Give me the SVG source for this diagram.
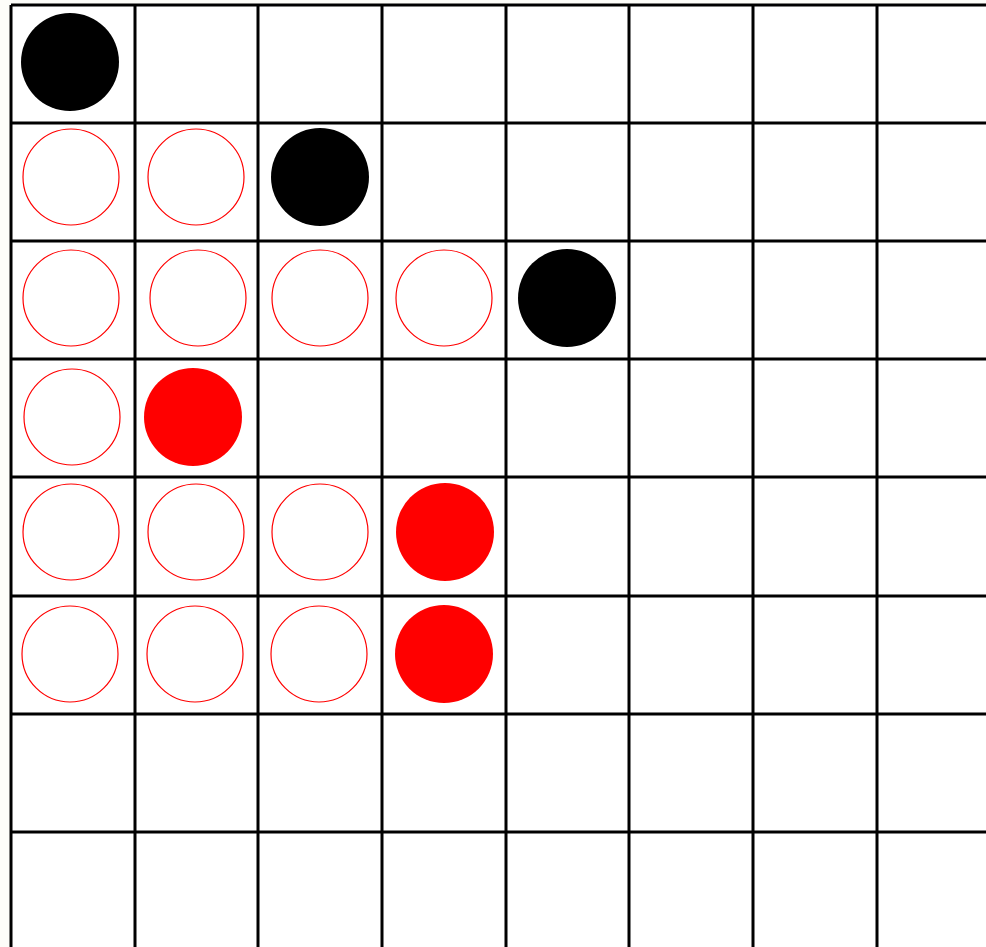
<svg xmlns="http://www.w3.org/2000/svg" width="986" height="947" viewBox="0 0 986 947">
<style>
.g{stroke:#000;stroke-width:3;fill:none}
.o{fill:#fff;stroke:#f00;stroke-width:1.2}
.r{fill:#f00}
.b{fill:#000}
</style>
<rect width="986" height="947" fill="#fdfdf9"/>
<rect x="11" y="5" width="975" height="942" fill="#fff"/>
<g id="grid" class="g">
<path d="M11 5V947M135 5V947M258 5V947M382 5V947M506 5V947M629 5V947M753 5V947M877 5V947"/>
<path d="M11 5H986M11 123H986M11 241H986M11 359H986M11 477H986M11 596H986M11 714H986M11 832H986"/>
</g>
<g id="pieces">
<circle class="b" cx="70" cy="62" r="49"/>
<circle class="o" cx="71" cy="177" r="48"/>
<circle class="o" cx="196" cy="177" r="48"/>
<circle class="b" cx="320" cy="177" r="49"/>
<circle class="o" cx="71" cy="298" r="48"/>
<circle class="o" cx="198" cy="298" r="48"/>
<circle class="o" cx="320" cy="298" r="48"/>
<circle class="o" cx="444" cy="298" r="48"/>
<circle class="b" cx="567" cy="298" r="49"/>
<circle class="o" cx="72" cy="417" r="48"/>
<circle class="r" cx="193" cy="417" r="49"/>
<circle class="o" cx="71" cy="532" r="48"/>
<circle class="o" cx="196" cy="532" r="48"/>
<circle class="o" cx="320" cy="532" r="48"/>
<circle class="r" cx="445" cy="532" r="49"/>
<circle class="o" cx="70" cy="654" r="48"/>
<circle class="o" cx="195" cy="654" r="48"/>
<circle class="o" cx="319" cy="654" r="48"/>
<circle class="r" cx="444" cy="654" r="49"/>
</g>
</svg>
